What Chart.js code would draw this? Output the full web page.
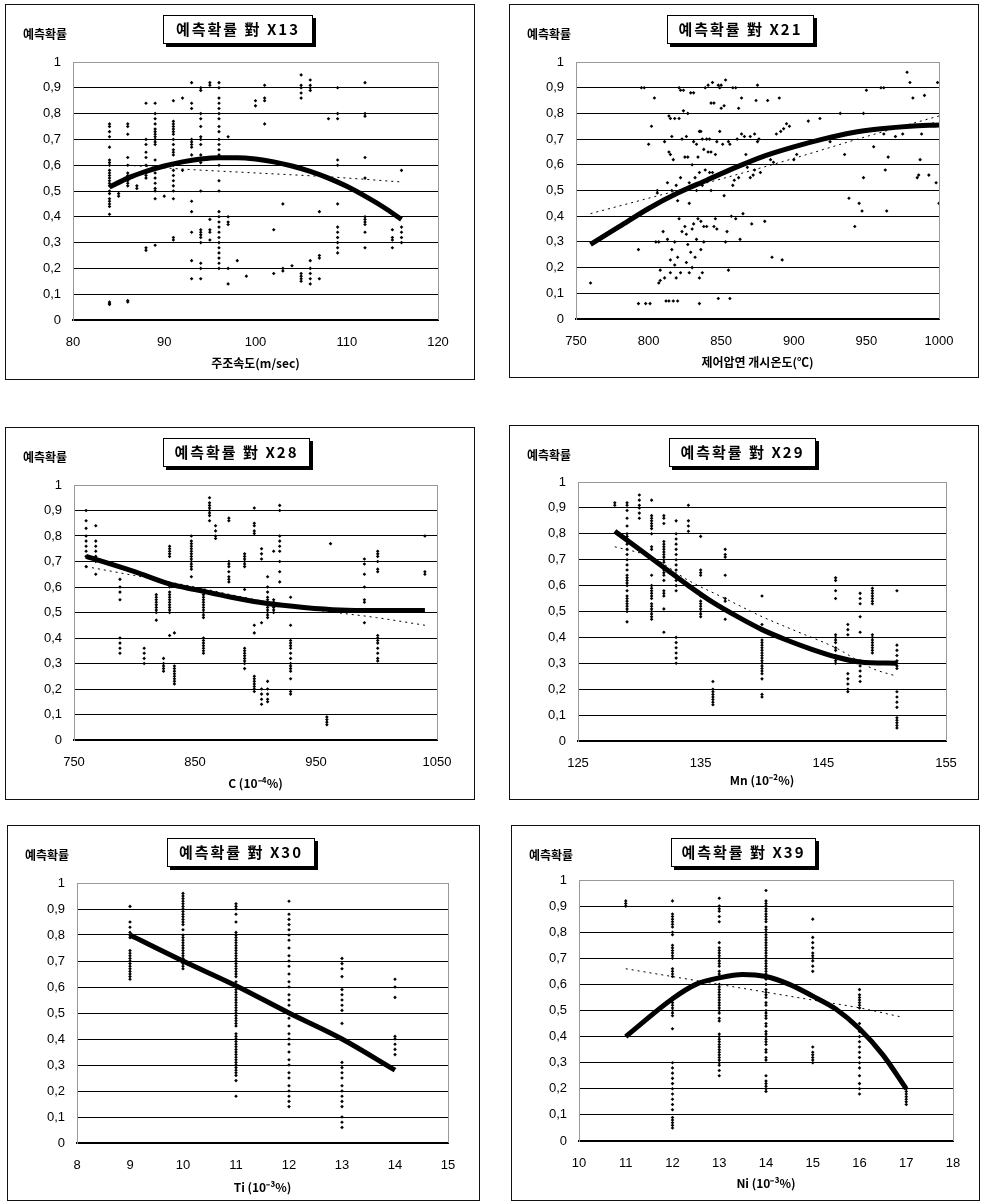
<!DOCTYPE html>
<html>
<head>
<meta charset="utf-8">
<script src="https://cdn.jsdelivr.net/npm/chart.js@4.4.1/dist/chart.umd.min.js"></script>
<style>
  body { margin: 0; background: #fff; width: 982px; height: 1202px; position: relative; overflow: hidden; }
  .panel { position: absolute; border: 1px solid #111; box-sizing: border-box; background: #fff; }
  .panel canvas { position: absolute; left: 0; top: 0; }
  .ylab { position: absolute; font: bold 12px "Noto Sans CJK KR", sans-serif; color: #000; white-space: nowrap; }
  .ttl { position: absolute; box-sizing: border-box; border: 1.5px solid #000; box-shadow: 3px 3px 0 #000; background: #fff;
         font: bold 15px "Noto Sans CJK KR", sans-serif; letter-spacing: 2px; text-align: center; color: #000; white-space: nowrap; }
</style>
</head>
<body>
<script>
// y axis tick labels (decimal comma as in the original)
const yTickLabels = ["0", "0,1", "0,2", "0,3", "0,4", "0,5", "0,6", "0,7", "0,8", "0,9", "1"];

// X13 : casting speed
const x13X = [84, 85, 86, 87, 88, 89, 90, 91, 92, 93, 94, 95, 96, 97, 98, 99, 100, 101, 102, 103, 104, 105, 106, 107, 108, 109, 112, 115, 116];
const x13Y = [
  [0.76, 0.75, 0.73, 0.71, 0.67, 0.62, 0.61, 0.6, 0.58, 0.57, 0.56, 0.55, 0.54, 0.53, 0.52, 0.5, 0.49, 0.47, 0.46, 0.45, 0.44, 0.41, 0.07, 0.065, 0.06],
  [0.49, 0.48],
  [0.76, 0.75, 0.72, 0.63, 0.6, 0.57, 0.56, 0.55, 0.54, 0.53, 0.52, 0.075, 0.07],
  [0.52, 0.51],
  [0.84, 0.7, 0.68, 0.65, 0.63, 0.6, 0.57, 0.56, 0.55, 0.28, 0.27],
  [0.84, 0.8, 0.78, 0.76, 0.74, 0.73, 0.72, 0.71, 0.7, 0.69, 0.68, 0.62, 0.57, 0.55, 0.53, 0.51, 0.5, 0.47, 0.29],
  [0.48],
  [0.85, 0.77, 0.76, 0.75, 0.74, 0.73, 0.72, 0.7, 0.68, 0.66, 0.65, 0.64, 0.6, 0.58, 0.56, 0.54, 0.52, 0.5, 0.47, 0.32, 0.31],
  [0.86, 0.58],
  [0.92, 0.84, 0.82, 0.7, 0.69, 0.68, 0.67, 0.64, 0.46, 0.42, 0.34, 0.23, 0.16],
  [0.9, 0.89, 0.8, 0.78, 0.75, 0.71, 0.7, 0.68, 0.64, 0.61, 0.5, 0.35, 0.34, 0.33, 0.32, 0.3, 0.22, 0.2, 0.16],
  [0.92, 0.91, 0.63, 0.39, 0.35, 0.34, 0.31],
  [0.92, 0.9, 0.86, 0.84, 0.82, 0.8, 0.78, 0.75, 0.73, 0.7, 0.68, 0.66, 0.64, 0.6, 0.54, 0.5, 0.42, 0.4, 0.38, 0.36, 0.34, 0.32, 0.3, 0.28, 0.26, 0.24, 0.22, 0.2],
  [0.71, 0.4, 0.38, 0.37, 0.2, 0.14],
  [0.23],
  [0.17],
  [0.85, 0.83],
  [0.91, 0.86, 0.85, 0.76],
  [0.35, 0.18],
  [0.45, 0.2, 0.19],
  [0.21],
  [0.95, 0.91, 0.9, 0.88, 0.86, 0.18, 0.17, 0.16, 0.15],
  [0.93, 0.91, 0.9, 0.89, 0.23, 0.2, 0.18, 0.16, 0.14],
  [0.42, 0.25, 0.24, 0.16],
  [0.78],
  [0.9, 0.8, 0.78, 0.62, 0.6, 0.45, 0.36, 0.34, 0.32, 0.3, 0.28, 0.26],
  [0.92, 0.8, 0.79, 0.63, 0.55, 0.4, 0.39, 0.38, 0.37, 0.34, 0.28],
  [0.35, 0.32, 0.31, 0.28],
  [0.58, 0.36, 0.34, 0.32, 0.3]
];
const x13Fit = [[84, 0.515], [86, 0.55], [88, 0.576], [90, 0.597], [92, 0.613], [94, 0.624], [96, 0.629], [98, 0.629], [100, 0.624], [102, 0.613], [104, 0.597], [106, 0.576], [108, 0.55], [110, 0.518], [112, 0.48], [114, 0.438], [116, 0.39]];
const x13Trend = [[86, 0.60], [92, 0.585], [100, 0.57], [108, 0.555], [116, 0.535]];

// X21 : rolling start temperature
const x21Points = [
  [760, 0.14], [793, 0.27], [793, 0.06], [795, 0.9], [797, 0.9], [798, 0.06], [800, 0.68], [801, 0.06], [802, 0.75], [804, 0.86],
  [805, 0.3], [806, 0.5], [806, 0.49], [807, 0.14], [807, 0.3], [808, 0.19], [808, 0.15], [810, 0.34], [811, 0.69], [811, 0.16],
  [812, 0.07], [813, 0.53], [813, 0.31], [814, 0.79], [814, 0.65], [814, 0.07], [815, 0.78], [815, 0.64], [815, 0.23], [815, 0.18],
  [816, 0.71], [816, 0.5], [816, 0.27], [817, 0.62], [817, 0.07], [818, 0.3], [818, 0.78], [818, 0.21], [819, 0.52], [819, 0.16],
  [820, 0.46], [820, 0.24], [820, 0.07], [821, 0.78], [821, 0.9], [821, 0.39], [822, 0.89], [822, 0.55], [822, 0.18], [823, 0.5],
  [823, 0.34], [823, 0.7], [824, 0.89], [824, 0.81], [825, 0.36], [825, 0.63], [826, 0.71], [826, 0.33], [826, 0.22], [827, 0.8],
  [827, 0.63], [827, 0.29], [828, 0.18], [828, 0.53], [828, 0.45], [829, 0.26], [829, 0.88], [830, 0.2], [830, 0.6], [830, 0.35],
  [831, 0.88], [831, 0.37], [831, 0.69], [832, 0.55], [832, 0.24], [833, 0.68], [833, 0.5], [833, 0.31], [834, 0.63], [834, 0.39],
  [835, 0.06], [835, 0.16], [835, 0.73], [835, 0.57], [836, 0.73], [836, 0.38], [836, 0.27], [837, 0.52], [837, 0.7], [837, 0.18],
  [838, 0.3], [838, 0.66], [838, 0.36], [839, 0.58], [839, 0.9], [840, 0.36], [840, 0.7], [840, 0.54], [841, 0.91], [841, 0.65],
  [842, 0.7], [842, 0.57], [843, 0.65], [843, 0.5], [843, 0.84], [844, 0.57], [844, 0.92], [845, 0.84], [845, 0.36], [846, 0.39],
  [846, 0.64], [847, 0.35], [847, 0.69], [848, 0.08], [848, 0.91], [849, 0.9], [849, 0.73], [850, 0.82], [850, 0.91], [851, 0.68],
  [852, 0.48], [852, 0.83], [853, 0.3], [853, 0.93], [854, 0.34], [855, 0.19], [855, 0.69], [856, 0.08], [856, 0.68], [857, 0.4],
  [858, 0.52], [858, 0.9], [859, 0.54], [860, 0.9], [860, 0.39], [861, 0.7], [862, 0.55], [862, 0.82], [863, 0.31], [864, 0.86],
  [864, 0.72], [865, 0.41], [866, 0.71], [867, 0.64], [868, 0.59], [870, 0.71], [870, 0.55], [871, 0.37], [872, 0.56], [873, 0.58],
  [873, 0.72], [874, 0.85], [875, 0.91], [875, 0.69], [876, 0.7], [877, 0.57], [880, 0.38], [882, 0.85], [884, 0.62], [885, 0.24],
  [886, 0.61], [888, 0.72], [890, 0.86], [891, 0.73], [892, 0.23], [893, 0.74], [895, 0.76], [897, 0.75], [900, 0.62], [902, 0.64],
  [905, 0.68], [910, 0.77], [918, 0.78], [925, 0.69], [932, 0.8], [935, 0.64], [938, 0.47], [942, 0.36], [945, 0.45], [947, 0.42],
  [948, 0.8], [948, 0.55], [950, 0.89], [955, 0.67], [960, 0.9], [962, 0.9], [962, 0.72], [963, 0.58], [964, 0.42], [965, 0.63],
  [970, 0.71], [975, 0.72], [978, 0.96], [980, 0.92], [982, 0.86], [985, 0.55], [986, 0.56], [987, 0.62], [988, 0.72], [990, 0.87],
  [993, 0.56], [996, 0.76], [998, 0.53], [999, 0.92], [1000, 0.45]
];
const x21Fit = [[760, 0.29], [780, 0.36], [800, 0.43], [820, 0.49], [840, 0.54], [860, 0.59], [880, 0.635], [900, 0.67], [920, 0.70], [940, 0.725], [960, 0.74], [980, 0.75], [1000, 0.755]];
const x21Trend = [[760, 0.41], [800, 0.47], [850, 0.545], [900, 0.625], [950, 0.71], [1000, 0.79]];

// X28 : C
const x28X = [760, 768, 788, 808, 818, 824, 829, 833, 847, 857, 862, 867, 878, 891, 899, 905, 910, 915, 920, 929, 959, 962, 990, 1001, 1040];
const x28Y = [
  [0.9, 0.86, 0.83, 0.8, 0.78, 0.76, 0.74, 0.72, 0.68],
  [0.84, 0.78, 0.76, 0.74, 0.72, 0.7, 0.65],
  [0.63, 0.6, 0.58, 0.55, 0.4, 0.38, 0.36, 0.34],
  [0.36, 0.34, 0.32, 0.3],
  [0.57, 0.56, 0.55, 0.54, 0.53, 0.52, 0.51, 0.5, 0.47],
  [0.32, 0.3, 0.29, 0.28, 0.27],
  [0.76, 0.75, 0.74, 0.73, 0.72, 0.6, 0.58, 0.57, 0.56, 0.55, 0.54, 0.53, 0.52, 0.51, 0.5, 0.41],
  [0.42, 0.29, 0.28, 0.27, 0.26, 0.25, 0.24, 0.23, 0.22],
  [0.8, 0.78, 0.77, 0.76, 0.75, 0.74, 0.73, 0.72, 0.71, 0.7, 0.69, 0.68, 0.67, 0.64],
  [0.57, 0.56, 0.55, 0.54, 0.53, 0.52, 0.51, 0.5, 0.49, 0.48, 0.4, 0.39, 0.38, 0.37, 0.36, 0.35, 0.34],
  [0.95, 0.93, 0.92, 0.91, 0.9, 0.89, 0.88, 0.86],
  [0.84, 0.82, 0.8, 0.79],
  [0.87, 0.86, 0.7, 0.69, 0.68, 0.66, 0.64, 0.63, 0.62],
  [0.73, 0.72, 0.71, 0.7, 0.69, 0.68, 0.59, 0.36, 0.35, 0.34, 0.33, 0.32, 0.31, 0.3, 0.28],
  [0.91, 0.85, 0.84, 0.82, 0.81, 0.45, 0.42, 0.25, 0.24, 0.23, 0.22, 0.21, 0.2, 0.19],
  [0.75, 0.73, 0.71, 0.46, 0.2, 0.18, 0.16, 0.14],
  [0.64, 0.6, 0.58, 0.56, 0.55, 0.54, 0.53, 0.52, 0.51, 0.5, 0.49, 0.48, 0.23, 0.2, 0.18, 0.16, 0.15],
  [0.74, 0.55, 0.54, 0.53, 0.52, 0.51, 0.5],
  [0.92, 0.9, 0.8, 0.78, 0.76, 0.74, 0.7, 0.66, 0.62],
  [0.56, 0.45, 0.39, 0.38, 0.37, 0.36, 0.34, 0.32, 0.3, 0.29, 0.28, 0.27, 0.24, 0.19, 0.18],
  [0.09, 0.08, 0.07, 0.06],
  [0.77],
  [0.71, 0.69, 0.65, 0.6, 0.55, 0.54, 0.46],
  [0.74, 0.73, 0.72, 0.7, 0.67, 0.66, 0.41, 0.4, 0.39, 0.38, 0.36, 0.34, 0.32, 0.31],
  [0.8, 0.66, 0.65]
];
const x28Fit = [[760, 0.72], [800, 0.66], [830, 0.61], [850, 0.59], [880, 0.56], [910, 0.535], [940, 0.52], [970, 0.51], [1000, 0.508], [1040, 0.508]];
const x28Trend = [[760, 0.68], [800, 0.645], [850, 0.60], [900, 0.55], [950, 0.51], [1000, 0.48], [1040, 0.45]];

// X29 : Mn
const x29X = [128, 129, 130, 131, 132, 133, 134, 135, 136, 137, 140, 146, 147, 148, 149, 151];
const x29Y = [
  [0.92, 0.91],
  [0.92, 0.91, 0.89, 0.86, 0.83, 0.8, 0.79, 0.78, 0.76, 0.74, 0.72, 0.7, 0.68, 0.66, 0.64, 0.63, 0.62, 0.61, 0.6, 0.58, 0.56, 0.55, 0.54, 0.53, 0.52, 0.51, 0.5, 0.46],
  [0.95, 0.93, 0.91, 0.9, 0.88, 0.86],
  [0.93, 0.87, 0.86, 0.85, 0.84, 0.83, 0.82, 0.8, 0.75, 0.74, 0.64, 0.6, 0.59, 0.58, 0.57, 0.56, 0.55, 0.53, 0.52, 0.51, 0.5, 0.49, 0.48, 0.47],
  [0.87, 0.86, 0.84, 0.77, 0.76, 0.75, 0.74, 0.73, 0.72, 0.71, 0.7, 0.69, 0.67, 0.66, 0.65, 0.64, 0.62, 0.58, 0.57, 0.56, 0.51, 0.42],
  [0.85, 0.8, 0.78, 0.76, 0.74, 0.72, 0.7, 0.68, 0.66, 0.64, 0.62, 0.6, 0.58, 0.4, 0.38, 0.36, 0.34, 0.32, 0.3],
  [0.91, 0.85, 0.83, 0.81],
  [0.79, 0.66, 0.65, 0.64, 0.56, 0.54, 0.53, 0.52, 0.51, 0.5, 0.49, 0.48],
  [0.23, 0.2, 0.19, 0.18, 0.17, 0.16, 0.15, 0.14],
  [0.74, 0.72, 0.71, 0.64, 0.55, 0.54, 0.47],
  [0.56, 0.45, 0.39, 0.38, 0.37, 0.36, 0.35, 0.34, 0.33, 0.32, 0.31, 0.3, 0.29, 0.28, 0.27, 0.26, 0.24, 0.18, 0.17],
  [0.63, 0.62, 0.58, 0.55, 0.41, 0.4, 0.39, 0.38, 0.36, 0.35, 0.33, 0.32, 0.31, 0.3],
  [0.45, 0.43, 0.41, 0.26, 0.24, 0.22, 0.2, 0.19],
  [0.57, 0.55, 0.53, 0.48, 0.42, 0.31, 0.29, 0.27, 0.25, 0.23],
  [0.59, 0.58, 0.57, 0.56, 0.55, 0.54, 0.53, 0.41, 0.4, 0.39, 0.38, 0.37, 0.36, 0.35, 0.34],
  [0.58, 0.37, 0.35, 0.33, 0.31, 0.3, 0.29, 0.28, 0.19, 0.17, 0.15, 0.13, 0.09, 0.08, 0.07, 0.06, 0.05]
];
const x29Fit = [[128, 0.81], [130, 0.74], [132, 0.67], [134, 0.60], [136, 0.535], [138, 0.48], [140, 0.43], [142, 0.39], [144, 0.355], [146, 0.325], [148, 0.305], [151, 0.30]];
const x29Trend = [[128, 0.75], [131, 0.71], [134, 0.62], [137, 0.55], [140, 0.48], [143, 0.42], [146, 0.36], [149, 0.28], [151, 0.25]];

// X30 : Ti
const x30X = [9, 10, 11, 12, 13, 14];
const x30Y = [
  [0.91, 0.85, 0.83, 0.81, 0.8, 0.79, 0.74, 0.73, 0.72, 0.71, 0.7, 0.69, 0.68, 0.67, 0.66, 0.65, 0.64, 0.63],
  [0.96, 0.95, 0.94, 0.93, 0.92, 0.91, 0.9, 0.89, 0.88, 0.87, 0.86, 0.85, 0.84, 0.82, 0.8, 0.79, 0.78, 0.77, 0.76, 0.75, 0.74, 0.73, 0.72, 0.71, 0.7, 0.69, 0.68, 0.67],
  [0.92, 0.91, 0.9, 0.88, 0.85, 0.81, 0.8, 0.79, 0.78, 0.77, 0.76, 0.75, 0.74, 0.73, 0.72, 0.71, 0.7, 0.69, 0.68, 0.67, 0.66, 0.65, 0.64, 0.62, 0.6, 0.59, 0.58, 0.57, 0.56, 0.55, 0.54, 0.53, 0.52, 0.51, 0.5, 0.49, 0.48, 0.47, 0.46, 0.45,
   0.42, 0.41, 0.4, 0.39, 0.38, 0.37, 0.36, 0.35, 0.34, 0.33, 0.32, 0.31, 0.3, 0.29, 0.28, 0.27, 0.26, 0.24, 0.18],
  [0.93, 0.88, 0.86, 0.84, 0.82, 0.8, 0.78, 0.75, 0.72, 0.7, 0.68, 0.65, 0.62, 0.6, 0.57, 0.55, 0.53, 0.5, 0.48, 0.45, 0.42, 0.4, 0.38, 0.35, 0.32, 0.3, 0.27, 0.25, 0.22, 0.2, 0.18, 0.16, 0.14],
  [0.71, 0.69, 0.67, 0.64, 0.59, 0.57, 0.55, 0.53, 0.51, 0.46, 0.31, 0.29, 0.27, 0.25, 0.22, 0.2, 0.18, 0.16, 0.14, 0.1, 0.08, 0.06],
  [0.63, 0.6, 0.56, 0.41, 0.4, 0.38, 0.36, 0.34]
];
const x30Fit = [[9, 0.80], [10, 0.70], [11, 0.605], [12, 0.50], [13, 0.40], [14, 0.28]];

// X39 : Ni
const x39X = [11, 12, 13, 14, 15, 16, 17];
const x39Y = [
  [0.92, 0.91, 0.9],
  [0.92, 0.87, 0.86, 0.85, 0.84, 0.83, 0.82, 0.8, 0.79, 0.75, 0.74, 0.73, 0.72, 0.71, 0.7, 0.66, 0.65, 0.64, 0.63, 0.55, 0.54, 0.53, 0.52, 0.51, 0.5, 0.49, 0.48, 0.43,
   0.3, 0.28, 0.26, 0.24, 0.22, 0.2, 0.18, 0.16, 0.14, 0.12, 0.09, 0.08, 0.07, 0.06, 0.05],
  [0.93, 0.9, 0.89, 0.88, 0.86, 0.84, 0.76, 0.74, 0.73, 0.72, 0.71, 0.7, 0.69, 0.68, 0.67, 0.65, 0.64, 0.63, 0.6, 0.59, 0.58, 0.57, 0.56, 0.55, 0.54, 0.53, 0.52, 0.51, 0.5, 0.49, 0.47, 0.46,
   0.41, 0.4, 0.39, 0.38, 0.37, 0.36, 0.35, 0.34, 0.33, 0.32, 0.31, 0.3, 0.29, 0.27, 0.25],
  [0.96, 0.92, 0.91, 0.9, 0.89, 0.88, 0.87, 0.86, 0.85, 0.84, 0.82, 0.81, 0.8, 0.79, 0.78, 0.77, 0.76, 0.75, 0.74, 0.73, 0.72, 0.71, 0.7, 0.69, 0.68, 0.67, 0.66, 0.65, 0.64, 0.63, 0.62,
   0.6, 0.58, 0.57, 0.56, 0.55, 0.53, 0.52, 0.5, 0.49, 0.48, 0.47, 0.45, 0.44, 0.42, 0.41, 0.4, 0.39, 0.38, 0.37, 0.35, 0.34, 0.32, 0.31, 0.25, 0.23, 0.22, 0.21, 0.2, 0.19],
  [0.85, 0.78, 0.76, 0.74, 0.72, 0.71, 0.7, 0.69, 0.67, 0.65, 0.36, 0.34, 0.33, 0.32, 0.31, 0.3],
  [0.58, 0.56, 0.55, 0.54, 0.53, 0.52, 0.51, 0.45, 0.42, 0.4, 0.38, 0.36, 0.34, 0.32, 0.3, 0.28, 0.25, 0.22, 0.2, 0.18],
  [0.2, 0.19, 0.18, 0.17, 0.16, 0.15, 0.14]
];
const x39Fit = [[11, 0.40], [12, 0.545], [12.5, 0.60], [13, 0.625], [13.5, 0.638], [14, 0.63], [14.5, 0.60], [15, 0.555], [15.5, 0.505], [16, 0.43], [16.5, 0.33], [17, 0.20]];
const x39Trend = [[11, 0.66], [12, 0.63], [13, 0.60], [14, 0.57], [15, 0.54], [16, 0.51], [16.9, 0.475]];

function columns(xs, ys) {
  const pts = [];
  xs.forEach((x, i) => ys[i].forEach((y) => pts.push({ x: x, y: y })));
  return pts;
}
function pairs(list) {
  return list.map((p) => ({ x: p[0], y: p[1] }));
}

// page layout: box = panel frame, plot = chart area, ttl = title box (all page px)
const panels = [
  { box: [5, 4, 475, 380], plot: [73, 62, 438, 320], ttl: [163, 15, 313, 44], xTitleY: 363,
    title: "예측확률 對 X13", xTitle: "주조속도(m/sec)", xMin: 80, xMax: 120, xStep: 10,
    points: columns(x13X, x13Y), fit: x13Fit, trend: x13Trend },
  { box: [509, 4, 979, 378], plot: [576, 62, 939, 319], ttl: [667, 15, 814, 44], xTitleY: 362,
    title: "예측확률 對 X21", xTitle: "제어압연 개시온도(℃)", xMin: 750, xMax: 1000, xStep: 50,
    points: pairs(x21Points), fit: x21Fit, trend: x21Trend },
  { box: [5, 427, 475, 800], plot: [74, 485, 437, 740], ttl: [163, 438, 310, 467], xTitleY: 783,
    title: "예측확률 對 X28", xTitle: "C (10⁻⁴%)", xMin: 750, xMax: 1050, xStep: 100,
    points: columns(x28X, x28Y), fit: x28Fit, trend: x28Trend },
  { box: [509, 425, 979, 800], plot: [578, 482, 946, 741], ttl: [669, 438, 816, 467], xTitleY: 780,
    title: "예측확률 對 X29", xTitle: "Mn (10⁻²%)", xMin: 125, xMax: 155, xStep: 10,
    points: columns(x29X, x29Y), fit: x29Fit, trend: x29Trend },
  { box: [7, 825, 480, 1201], plot: [77, 883, 448, 1143], ttl: [167, 838, 315, 867], xTitleY: 1187,
    title: "예측확률 對 X30", xTitle: "Ti (10⁻³%)", xMin: 8, xMax: 15, xStep: 1,
    points: columns(x30X, x30Y), fit: x30Fit, trend: null },
  { box: [511, 825, 980, 1201], plot: [579, 880, 953, 1141], ttl: [671, 838, 816, 867], xTitleY: 1183,
    title: "예측확률 對 X39", xTitle: "Ni (10⁻³%)", xMin: 10, xMax: 18, xStep: 1,
    points: columns(x39X, x39Y), fit: x39Fit, trend: x39Trend }
];

// gray right edge of the plot area
const frame = {
  id: "frame",
  beforeDatasetsDraw(chart) {
    const a = chart.chartArea, c = chart.ctx;
    c.save();
    c.strokeStyle = "#999";
    c.lineWidth = 1;
    c.beginPath();
    c.moveTo(a.right + 0.5, a.top);
    c.lineTo(a.right + 0.5, a.bottom);
    c.stroke();
    c.restore();
  }
};

Chart.defaults.font.family = "'Liberation Sans', Arial, sans-serif";
Chart.defaults.color = "#000";

panels.forEach((p) => {
  const [bx0, by0, bx1, by1] = p.box;
  const [px0, py0, px1, py1] = p.plot;
  const w = bx1 - bx0, h = by1 - by0;
  const cw = w - 2, ch = h - 2;

  const div = document.createElement("div");
  div.className = "panel";
  div.style.left = bx0 + "px";
  div.style.top = by0 + "px";
  div.style.width = w + "px";
  div.style.height = h + "px";
  document.body.appendChild(div);

  const wrap = document.createElement("div");
  wrap.style.cssText = "position:absolute;left:0;top:0;width:" + cw + "px;height:" + ch + "px";
  div.appendChild(wrap);
  const canvas = document.createElement("canvas");
  wrap.appendChild(canvas);

  const lab = document.createElement("div");
  lab.className = "ylab";
  lab.textContent = "예측확률";
  lab.style.left = "17px";
  lab.style.top = "20px";
  div.appendChild(lab);

  const t = document.createElement("div");
  t.className = "ttl";
  t.textContent = p.title;
  t.style.left = (p.ttl[0] - bx0 - 1) + "px";
  t.style.top = (p.ttl[1] - by0 - 1) + "px";
  t.style.width = (p.ttl[2] - p.ttl[0]) + "px";
  t.style.height = (p.ttl[3] - p.ttl[1]) + "px";
  t.style.lineHeight = (p.ttl[3] - p.ttl[1] - 3) + "px";
  div.appendChild(t);

  const left = px0 - bx0 - 1;
  const top = py0 - by0 - 1;
  const right = (bx1 - 1) - px1;
  const bottom = (by1 - 1) - py1;
  const titleSize = 12;
  const titlePad = Math.max(0, bottom - (p.xTitleY - py1) - titleSize * 0.6);

  const datasets = [
    { data: pairs(p.fit), showLine: true, borderColor: "#000", borderWidth: 5, pointRadius: 0,
      cubicInterpolationMode: "monotone", order: 1 }
  ];
  if (p.trend) {
    datasets.push({ data: pairs(p.trend), showLine: true, borderColor: "#000", borderWidth: 1,
      borderDash: [2, 4], pointRadius: 0, cubicInterpolationMode: "monotone", order: 2 });
  }
  datasets.push({ data: p.points, pointStyle: "rectRot", pointRadius: 1.8, backgroundColor: "#000",
    borderWidth: 0, order: 3 });

  new Chart(canvas, {
    type: "scatter",
    data: { datasets: datasets },
    options: {
      responsive: true,
      maintainAspectRatio: false,
      animation: false,
      layout: { padding: { top: top, right: right, left: 0, bottom: 0 } },
      plugins: { legend: { display: false }, tooltip: { enabled: false } },
      scales: {
        x: {
          type: "linear",
          min: p.xMin,
          max: p.xMax,
          afterFit(s) { s.height = bottom; },
          ticks: { stepSize: p.xStep, padding: 15, font: { size: 13 }, color: "#000",
                   callback: (v) => String(v) },
          grid: { display: true, drawOnChartArea: false, drawTicks: false },
          border: { color: "#000", width: 2 },
          title: { display: true, text: p.xTitle, font: { size: titleSize, weight: "bold", family: "'Noto Sans CJK KR', sans-serif" },
                   color: "#000", padding: { top: 0, bottom: titlePad } }
        },
        y: {
          min: 0,
          max: 1,
          afterFit(s) { s.width = left; },
          ticks: { stepSize: 0.1, padding: 12, font: { size: 13 }, color: "#000",
                   callback: (v) => yTickLabels[Math.round(v * 10)] },
          grid: { drawTicks: false, color: (ctx) => (ctx.tick && ctx.tick.value >= 1 ? "#999" : "#000"), lineWidth: 1 },
          border: { color: "#999", width: 1 }
        }
      }
    },
    plugins: [frame]
  });
});
</script>
</body>
</html>
